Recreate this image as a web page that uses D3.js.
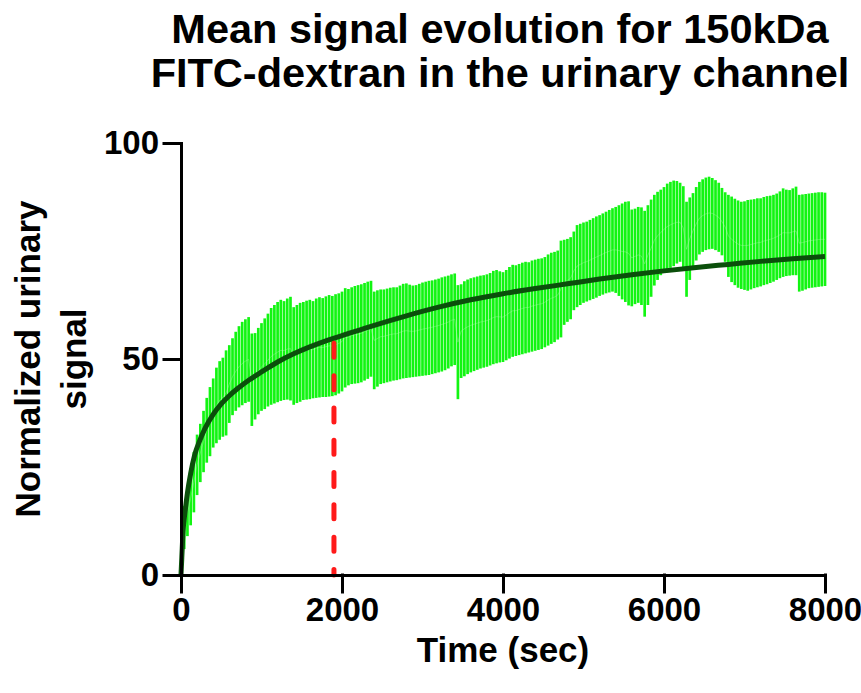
<!DOCTYPE html>
<html>
<head>
  <script src="https://d3js.org/d3.v7.min.js"></script>
  <style>
    body { margin: 0; background: #fff; }
    text { font-family: "Liberation Sans", Arial, Helvetica, sans-serif; font-weight: bold; fill: #000; }
    .axis path, .axis line { stroke: #000; stroke-width: 3; stroke-linecap: square; }
    .axis text { font-size: 33px; }
  </style>
</head>
<body>
  <div id="chart"></div>
  <script>
    // sample times (sec), one error bar per sample
    const times = [
      0,40,80,120,160,200,240,280,320,360,400,440,480,520,560,600,640,680,720,760,
      800,840,880,920,960,1000,1040,1080,1120,1160,1200,1240,1280,1320,1360,1400,1440,1480,1520,1560,
      1600,1640,1680,1720,1760,1800,1840,1880,1920,1960,2000,2040,2080,2120,2160,2200,2240,2280,2320,2360,
      2400,2440,2480,2520,2560,2600,2640,2680,2720,2760,2800,2840,2880,2920,2960,3000,3040,3080,3120,3160,
      3200,3240,3280,3320,3360,3400,3440,3480,3520,3560,3600,3640,3680,3720,3760,3800,3840,3880,3920,3960,
      4000,4040,4080,4120,4160,4200,4240,4280,4320,4360,4400,4440,4480,4520,4560,4600,4640,4680,4720,4760,
      4800,4840,4880,4920,4960,5000,5040,5080,5120,5160,5200,5240,5280,5320,5360,5400,5440,5480,5520,5560,
      5600,5640,5680,5720,5760,5800,5840,5880,5920,5960,6000,6040,6080,6120,6160,6200,6240,6280,6320,6360,
      6400,6440,6480,6520,6560,6600,6640,6680,6720,6760,6800,6840,6880,6920,6960,7000,7040,7080,7120,7160,
      7200,7240,7280,7320,7360,7400,7440,7480,7520,7560,7600,7640,7680,7720,7760,7800,7840,7880,7920,7960,
      8000
    ];

    // top of each error bar (mean + SD)
    const upper = [
      0,16,20,24,28.5,32.5,35,38,41,43.5,45.5,48,49.5,50.3,52,53.2,54.8,56.3,57.6,58.6,
      59.2,59.7,55.9,56,57.2,58.3,59.4,60.5,61.8,62.5,63.2,63.7,63.4,64,64.4,62,62.5,63,63.2,63.5,
      63.7,63.4,64,64.3,64.1,64.5,64.8,64.6,65,65.2,65.6,66.4,66.2,66.6,66.9,67.1,67.3,67.6,67.9,68.1,
      65.6,65.9,66.1,66.1,66.3,66.5,66.6,66.6,67,67.4,67.5,67.2,67,67.1,67.4,67.7,67.9,68.1,68.2,68.4,
      68.6,68.9,69.1,69.3,69.6,69.8,67.1,67.3,68,68.4,68.7,68.9,69.1,69.3,69.4,69.6,69.9,70.4,70.6,70.3,
      70.1,70.6,71.3,71.8,71.7,72,72.3,72.5,72.4,72.8,73,73.2,73.3,73.6,74.2,74.6,74.8,75.1,77.4,77.6,
      77.8,78.2,79.5,81,81.3,81.6,81.8,82.2,82.6,83,83.3,83.7,84.1,84.5,84.9,85.2,85.6,86,86.4,86.5,
      84.6,84.8,85.2,85.1,84.3,85.6,86.9,88,88.7,89.2,89.8,90.6,91,91.3,91.2,90.8,90,86.4,87.4,88.4,
      89.8,91,91.6,92,92.2,91.9,91.4,90.8,89.6,88.6,88,87.6,87.1,86.7,86.4,86.5,86.8,86.9,87,87.2,
      87.2,87.5,87.7,87.8,88,88.3,88.8,89.5,89.2,89.1,89.5,89.9,88,88.1,88.2,88.3,88.4,88.5,88.6,88.6,
      88.5
    ];

    // bottom of each error bar (mean - SD)
    const lower = [
      0,6,9,11.5,14.5,18.5,21.5,23.8,26,27.5,29.5,30.5,31.3,32,32.3,35.2,37,38,38.8,39.3,
      39.8,40.1,34.5,36,37.2,38,38.4,39,39.4,39.7,40,40.3,40.5,40.6,40.4,39.4,39.8,40.1,40.5,40.6,
      40.7,40.9,41,41.1,41.2,41.2,41.3,41.4,41.6,42,42.5,43.4,43.9,44.2,44.3,44.4,44.6,45,45.4,45.9,
      43,43.6,44.2,44.4,44.6,44.8,45,45.1,45.3,45.5,45.6,45.7,45.8,45.9,46,46.1,46.2,46.3,46.5,46.7,
      46.9,47.1,47.4,47.8,48.3,48.6,40.7,45.6,46,46.5,46.9,47.2,47.5,47.8,48,48.2,48.5,48.8,49,49.2,
      49.3,49.7,50.1,50.5,50.7,50.9,51.1,51.3,51.5,51.7,51.9,52.1,52.3,52.7,53.1,53.5,53.9,54.5,55,57.9,
      58.6,59.2,61.3,62,62.5,63,63.3,63.6,63.9,64.2,64.6,64.9,65.2,65.4,65.6,65.3,64.6,63.8,63.2,62.4,
      62.2,62.7,63,62.5,59.8,62.5,64.4,67,68.3,69.4,70.2,70.7,71.1,71.5,72.1,72.5,70.6,64.4,68.3,71,
      72.8,74.2,74.8,75.2,75.4,75.5,75.2,74.8,74,72.5,69,67.8,67.1,66.5,66.2,66,65.8,66.1,66.4,66.6,
      66.8,67.1,67.3,67.6,67.9,68.3,68.7,69,69.2,69.3,69.4,69.4,65.6,65.8,66.1,66.4,66.5,66.6,66.7,66.8,
      66.9
    ];

    // fitted curve
    const fitTimes  = [0,10,25,50,80,120,170,230,300,400,500,600,700,850,1000,1200,1400,1600,1800,2000,2400,2800,3200,3600,4000,4400,4800,5200,5600,6000,6400,6800,7200,7600,8000];
    const fitValues = [0,4,10,14.5,19,23.5,27.8,31,34,37.2,39.6,41.5,43.1,45.2,47,49.3,51.2,52.8,54.2,55.4,57.8,60,62,63.7,65.1,66.3,67.4,68.5,69.5,70.4,71.2,71.9,72.6,73.2,73.7];

    // red dashed marker
    const markerTime = 1900;
    const markerValue = 54.2;

    const xTicks = [0, 2000, 4000, 6000, 8000];
    const yTicks = [0, 50, 100];

    const width = 861, height = 693;
    const margin = {top: 143, left: 181, right: 36, bottom: 118};

    const svg = d3.select("#chart").append("svg")
      .attr("width", width)
      .attr("height", height);

    const xScale = d3.scaleLinear()
      .domain([0, 8000])
      .range([margin.left, width - margin.right]);

    const yScale = d3.scaleLinear()
      .domain([0, 100])
      .range([height - margin.bottom, margin.top]);

    /* ERROR BARS */
    svg.append("g").selectAll("line")
      .data(times)
      .enter()
      .append("line")
        .attr("x1", d => xScale(d))
        .attr("x2", d => xScale(d))
        .attr("y1", (d, i) => yScale(lower[i]))
        .attr("y2", (d, i) => yScale(upper[i]))
        .attr("stroke", "#12f512")
        .attr("stroke-width", 2.7);

    // mean line (middle of each bar)
    svg.append("path")
      .datum(times)
      .attr("fill", "none")
      .attr("stroke", "#a8ffa8")
      .attr("stroke-width", 0.8)
      .attr("opacity", 0.45)
      .attr("d", d3.line()
        .x(d => xScale(d))
        .y((d, i) => yScale((upper[i] + lower[i]) / 2)));

    /* FIT CURVE */
    svg.append("path")
      .datum(fitTimes)
      .attr("fill", "none")
      .attr("stroke", "#0b4f0b")
      .attr("stroke-width", 5)
      .attr("d", d3.line()
        .x(d => xScale(d))
        .y((d, i) => yScale(fitValues[i]))
        .curve(d3.curveMonotoneX));

    /* MARKER */
    svg.append("line")
      .attr("x1", xScale(markerTime))
      .attr("x2", xScale(markerTime))
      .attr("y1", yScale(markerValue) + 2.5)
      .attr("y2", yScale(0))
      .attr("stroke", "#ff1a1a")
      .attr("stroke-width", 5)
      .attr("stroke-linecap", "round")
      .attr("stroke-dasharray", "14 18.3");

    /* AXES */
    svg.append("g")
      .attr("class", "axis")
      .attr("transform", `translate(0,${yScale(0)})`)
      .call(d3.axisBottom(xScale).tickValues(xTicks).tickSize(17).tickSizeOuter(0).tickPadding(6).tickFormat(d3.format("d")));

    svg.append("g")
      .attr("class", "axis")
      .attr("transform", `translate(${xScale(0)},0)`)
      .call(d3.axisLeft(yScale).tickValues(yTicks).tickSize(17).tickSizeOuter(0).tickPadding(5));

    /* TITLES */
    const title = svg.append("text")
      .attr("text-anchor", "middle")
      .attr("font-size", "41.5px");
    title.append("tspan").attr("x", 500).attr("y", 43).text("Mean signal evolution for 150kDa");
    title.append("tspan").attr("x", 500).attr("y", 87).text("FITC-dextran in the urinary channel");

    svg.append("text")
      .attr("text-anchor", "middle")
      .attr("font-size", "35px")
      .attr("x", 503)
      .attr("y", 662)
      .text("Time (sec)");

    const yLabel = svg.append("text")
      .attr("text-anchor", "middle")
      .attr("font-size", "35px")
      .attr("transform", "rotate(-90)");
    yLabel.append("tspan").attr("x", -359).attr("y", 40).text("Normalized urinary");
    yLabel.append("tspan").attr("x", -359).attr("y", 86).text("signal");
  </script>
</body>
</html>
